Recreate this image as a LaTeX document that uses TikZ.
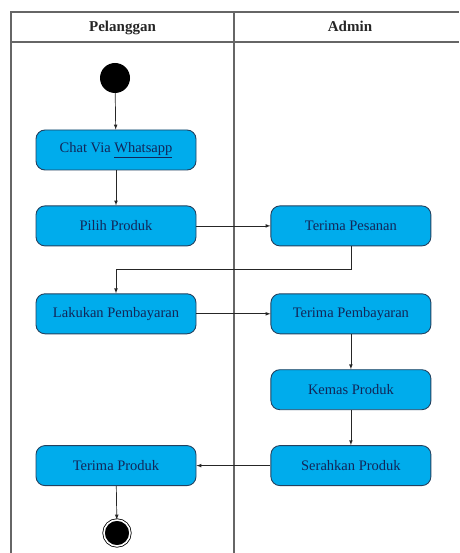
\documentclass[tikz,border=0pt]{standalone}
\usepackage{fontspec}
\setmainfont{Liberation Serif}
\usetikzlibrary{shapes, arrows, positioning}
\definecolor{birulaut}{RGB}{0,172,236}
\definecolor{teksbiru}{RGB}{18,38,88}
\definecolor{tepibiru}{RGB}{35,65,95}
\tikzstyle{aktivitas} = [draw=tepibiru, fill=birulaut, line width=0.9pt, rectangle, rounded corners=9pt, minimum width=160pt, minimum height=40pt, text=teksbiru, font=\fontsize{14.5}{16}\selectfont]
\tikzstyle{awal} = [circle, fill=black, minimum size=30pt, inner sep=0pt]
\tikzstyle{akhir} = [circle, draw=black, fill=black, double=white, double distance=1.6pt, line width=0.8pt, minimum size=26pt, inner sep=0pt]
\tikzstyle{alur} = [draw=black!85, line width=0.7pt, -latex]
\tikzstyle{judul} = [font=\bfseries\fontsize{15}{17}\selectfont, text=black!85, anchor=base]

\begin{document}
\begin{tikzpicture}[x=1pt, y=-1pt]
	\useasboundingbox (0,0) rectangle (459,553);
	% swimlane
	\draw[black!60, line width=1.3pt] (11,553) -- (11,12) -- (459,12);
	\draw[black!60, line width=1.3pt] (11,42) -- (459,42);
	\draw[black!60, line width=1.3pt] (234,12) -- (234,553);
	\node[judul] (pelanggan) at (122.5,31.5) {Pelanggan};
	\node[judul] (admin) at (350,31.5) {Admin};
	% aktivitas
	\node[awal] (mulai) at (115,78) {};
	\node[aktivitas] (chat) at (116,150) {Chat Via \underline{Whatsapp}};
	\node[aktivitas, below=35pt of chat] (pilih) {Pilih Produk};
	\node[aktivitas, right=74pt of pilih] (pesanan) {Terima Pesanan};
	\node[aktivitas, below=47pt of pilih] (bayar) {Lakukan Pembayaran};
	\node[aktivitas, right=74pt of bayar] (terimabayar) {Terima Pembayaran};
	\node[aktivitas, below=35pt of terimabayar] (kemas) {Kemas Produk};
	\node[aktivitas, below=35pt of kemas] (serahkan) {Serahkan Produk};
	\node[aktivitas, left=74pt of serahkan] (terimaproduk) {Terima Produk};
	\node[akhir] (selesai) at (117,533) {};
	% alur
	\draw[alur] (mulai) -- (chat);
	\draw[alur] (chat) -- (pilih);
	\draw[alur] (pilih) -- (pesanan);
	\draw[alur] (pesanan.south) -- ++(0,23) -| (bayar.north);
	\draw[alur] (bayar) -- (terimabayar);
	\draw[alur] (terimabayar) -- (kemas);
	\draw[alur] (kemas) -- (serahkan);
	\draw[alur] (serahkan) -- (terimaproduk);
	\draw[alur] (terimaproduk) -- (selesai);
\end{tikzpicture}
\end{document}
